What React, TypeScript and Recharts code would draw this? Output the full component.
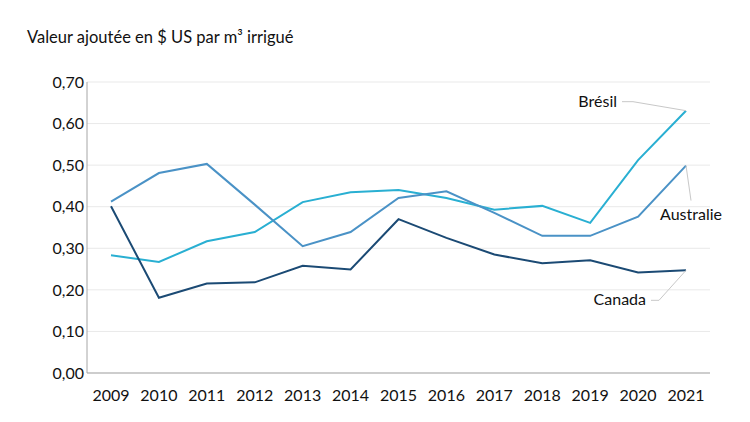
import { LineChart, Line, XAxis, YAxis, CartesianGrid } from 'recharts'

const years = ['2009', '2010', '2011', '2012', '2013', '2014', '2015', '2016', '2017', '2018', '2019', '2020', '2021']
const bresil = [0.283, 0.267, 0.317, 0.339, 0.411, 0.435, 0.44, 0.421, 0.393, 0.402, 0.361, 0.512, 0.631]
const australie = [0.412, 0.481, 0.503, 0.405, 0.305, 0.339, 0.421, 0.437, 0.385, 0.33, 0.33, 0.376, 0.499]
const canada = [0.401, 0.181, 0.215, 0.218, 0.258, 0.249, 0.37, 0.325, 0.285, 0.264, 0.271, 0.242, 0.247]
const yTicks = [0, 0.1, 0.2, 0.3, 0.4, 0.5, 0.6, 0.7]

const data = years.map((year, i) => ({
  year,
  bresil: bresil[i],
  australie: australie[i],
  canada: canada[i],
}))

const FONT = 'Lato, "Open Sans", sans-serif'
const TEXT = '#111'
const LEADER = '#c8c8c8'
const last = years.length - 1

const fmt = (v: number) => v.toFixed(2).replace('.', ',')

function BresilLabel(props: any) {
  const { x, y, index } = props
  if (index !== last) return null
  return (
    <g>
      <polyline points={`${x},${y} ${x - 53},${y - 9} ${x - 64},${y - 9}`} fill="none" stroke={LEADER} strokeWidth={1} />
      <text x={x - 69} y={y - 8} textAnchor="end" dominantBaseline="middle" fontSize={16} fontFamily={FONT} fill={TEXT}>
        Brésil
      </text>
    </g>
  )
}

function AustralieLabel(props: any) {
  const { x, y, index } = props
  if (index !== last) return null
  return (
    <g>
      <line x1={x} y1={y} x2={x + 5} y2={y + 35} stroke={LEADER} strokeWidth={1} />
      <text x={x + 5} y={y + 50} textAnchor="middle" dominantBaseline="middle" fontSize={16} fontFamily={FONT} fill={TEXT}>
        Australie
      </text>
    </g>
  )
}

function CanadaLabel(props: any) {
  const { x, y, index } = props
  if (index !== last) return null
  return (
    <g>
      <polyline points={`${x},${y} ${x - 27},${y + 30} ${x - 35},${y + 30}`} fill="none" stroke={LEADER} strokeWidth={1} />
      <text x={x - 40} y={y + 31} textAnchor="end" dominantBaseline="middle" fontSize={16} fontFamily={FONT} fill={TEXT}>
        Canada
      </text>
    </g>
  )
}

export default function App() {
  return (
    <div style={{ position: 'fixed', left: 0, top: 0, width: 750, height: 422, background: '#fff', fontFamily: FONT }}>
      <div style={{ position: 'absolute', left: 27, top: 27, fontSize: 16.5, color: TEXT, whiteSpace: 'nowrap' }}>
        Valeur ajoutée en $ US par m³ irrigué
      </div>
      <LineChart width={750} height={422} data={data} margin={{ top: 82, right: 40, left: 47, bottom: 19 }}>
        <CartesianGrid vertical={false} stroke="#e9e9e9" strokeWidth={1} />
        <XAxis
          dataKey="year"
          height={30}
          padding={{ left: 24, right: 24 }}
          axisLine={{ stroke: '#a6a6a6', strokeWidth: 1 }}
          tickLine={false}
          tickSize={0}
          tickMargin={17}
          interval={0}
          tick={{ fontSize: 16, fill: TEXT, fontFamily: FONT }}
        />
        <YAxis
          width={40}
          domain={[0, 0.7]}
          ticks={yTicks}
          tickFormatter={fmt}
          axisLine={{ stroke: '#a6a6a6', strokeWidth: 1 }}
          tickLine={false}
          tickSize={0}
          tickMargin={3}
          tick={{ fontSize: 16, fill: TEXT, fontFamily: FONT }}
        />
        <Line type="linear" dataKey="bresil" stroke="#29afd2" strokeWidth={2} dot={false} isAnimationActive={false} label={<BresilLabel />} />
        <Line type="linear" dataKey="australie" stroke="#4a92c6" strokeWidth={2} dot={false} isAnimationActive={false} label={<AustralieLabel />} />
        <Line type="linear" dataKey="canada" stroke="#1b4a74" strokeWidth={2} dot={false} isAnimationActive={false} label={<CanadaLabel />} />
      </LineChart>
    </div>
  )
}
